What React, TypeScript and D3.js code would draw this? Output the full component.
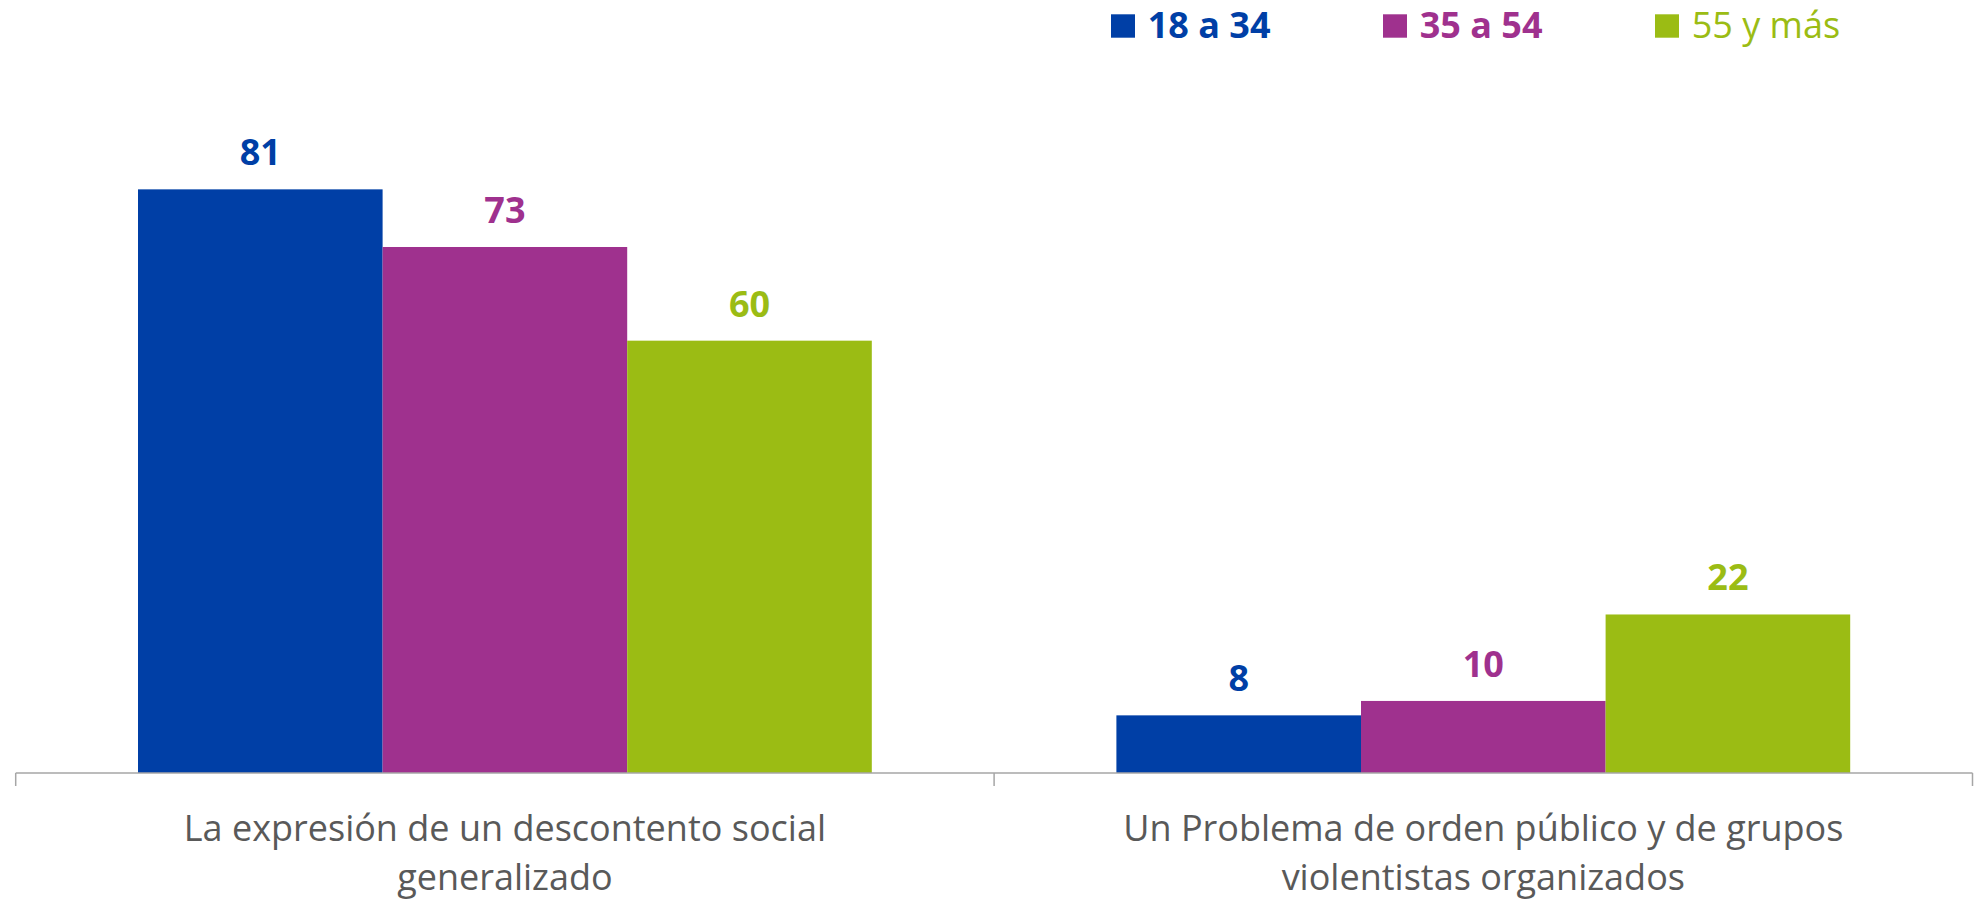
import React from "react";
import * as d3 from "d3";

const categories = [
  ["La expresión de un descontento social", "generalizado"],
  ["Un Problema de orden público y de grupos", "violentistas organizados"],
];
const seriesNames = ["18 a 34", "35 a 54", "55 y más"];
const seriesColors = ["#003FA6", "#9F318E", "#9BBC14"];
const seriesBold = [true, true, false];
const values = [
  [81, 73, 60],
  [8, 10, 22],
];

const W = 1975;
const H = 902;
const FONT = "'Open Sans', 'Noto Sans', sans-serif";

export default function App() {
  const axisY = 773;
  const x0 = d3
    .scaleBand<number>()
    .domain(categories.map((_, i) => i))
    .range([15.7, 1972.5])
    .paddingInner(0)
    .paddingOuter(0);
  const x1 = d3
    .scaleBand<number>()
    .domain(seriesNames.map((_, i) => i))
    .range([0, x0.bandwidth()])
    .paddingOuter(0.5)
    .paddingInner(0);
  // custom outer padding: 12.5% of band each side
  const pad = x0.bandwidth() * 0.125;
  const barW = (x0.bandwidth() - 2 * pad) / seriesNames.length;
  const bx = (s: number) => pad + s * barW;
  void x1;

  const y = d3.scaleLinear().domain([0, 90]).range([axisY, 124.5]);

  const bounds = [0, 1].map((i) => x0(i) as number).concat([x0.range()[1]]);

  const legendStart = 1111;
  const legendStep = 272;

  return (
    <svg
      width={W}
      height={H}
      style={{ position: "absolute", left: 0, top: 0, background: "#fff" }}
      fontFamily={FONT}
    >
      <rect x={0} y={0} width={W} height={H} fill="#fff" />
      {/* legend */}
      {seriesNames.map((name, s) => (
        <g key={name} transform={`translate(${legendStart + s * legendStep},0)`}>
          <rect x={0} y={14.3} width={24} height={23.4} fill={seriesColors[s]} />
          <text
            x={36.7}
            y={37.7}
            fontSize={36}
            fontWeight={seriesBold[s] ? 700 : 400}
            fill={seriesColors[s]}
          >
            {name}
          </text>
        </g>
      ))}
      {/* bars */}
      {values.map((row, c) => (
        <g key={c} transform={`translate(${x0(c)},0)`}>
          {row.map((v, s) => (
            <g key={s}>
              <rect
                x={bx(s)}
                y={y(v)}
                width={barW}
                height={axisY - y(v)}
                fill={seriesColors[s]}
              />
              <text
                x={bx(s) + barW / 2}
                y={y(v) - 24}
                textAnchor="middle"
                fontSize={36}
                fontWeight={700}
                fill={seriesColors[s]}
              >
                {v}
              </text>
            </g>
          ))}
        </g>
      ))}
      {/* axis */}
      <line
        x1={x0.range()[0]}
        x2={x0.range()[1]}
        y1={axisY}
        y2={axisY}
        stroke="#A6A6A6"
        strokeWidth={1.5}
      />
      {bounds.map((bxv, i) => (
        <line
          key={i}
          x1={bxv}
          x2={bxv}
          y1={axisY}
          y2={786}
          stroke="#A6A6A6"
          strokeWidth={1.5}
        />
      ))}
      {/* category labels */}
      {categories.map((lines, c) => (
        <text
          key={c}
          x={(x0(c) as number) + x0.bandwidth() / 2}
          textAnchor="middle"
          fontSize={36}
          fill="#595959"
        >
          {lines.map((l, k) => (
            <tspan key={k} x={(x0(c) as number) + x0.bandwidth() / 2} y={841 + k * 49}>
              {l}
            </tspan>
          ))}
        </text>
      ))}
    </svg>
  );
}
